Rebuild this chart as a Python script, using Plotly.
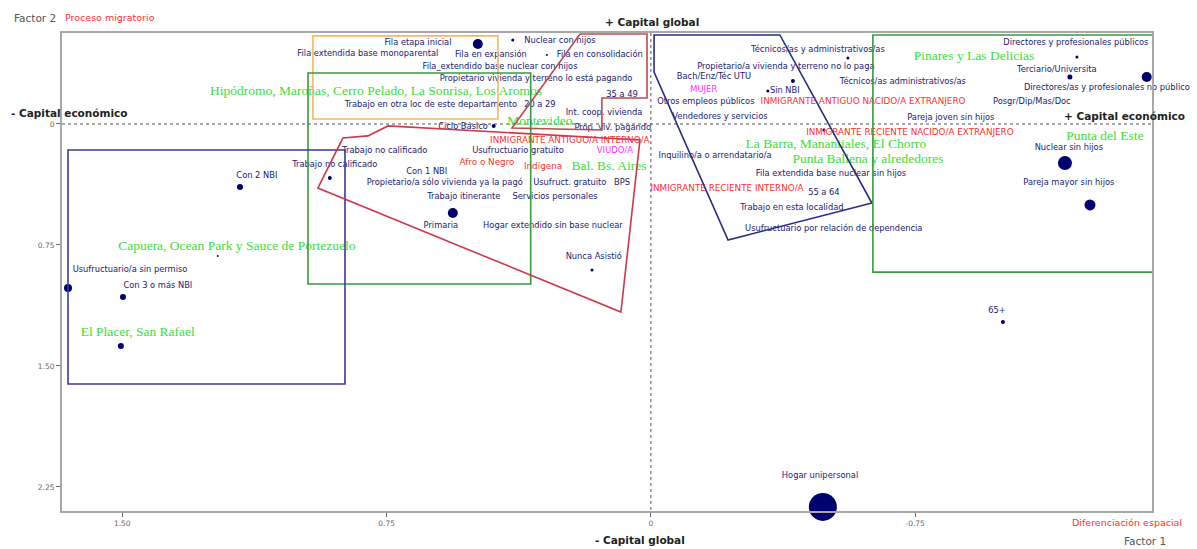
import plotly.graph_objects as go

# ---------------- data (factor coordinates) ----------------
# Category labels (navy)
cat_labels = [
    "Fila etapa inicial", "Fila extendida base monoparental", "Nuclear con hijos",
    "Fila en expansión", "Fila en consolidación", "Fila_extendido base nuclear con hijos",
    "Propietario vivienda y terreno lo está pagando", "Trabajo en otra loc de este departamento",
    "20 a 29", "35 a 49", "Int. coop. vivienda", "Ciclo Básico", "Prop. viv. pagando",
    "Trabajo no calificado", "Usufructuario gratuito", "Trabajo no calificado", "Con 1 NBI",
    "Propietario/a sólo vivienda ya la pagó", "Usufruct. gratuito", "BPS",
    "Trabajo itinerante", "Servicios personales", "Primaria", "Hogar extendido sin base nuclear",
    "Nunca Asistió", "Con 2 NBI", "Usufructuario/a sin permiso", "Con 3 o más NBI",
    "Técnicos/as y administrativos/as", "Propietario/a vivienda y terreno no lo paga",
    "Bach/Enz/Téc UTU", "Sin NBI", "Técnicos/as administrativos/as", "Otros empleos públicos",
    "Vendedores y servicios", "Pareja joven sin hijos", "Inquilino/a o arrendatario/a",
    "Fila extendida base nuclear sin hijos", "55 a 64", "Trabajo en esta localidad",
    "Usufructuario por relación de dependencia", "Directores y profesionales públicos",
    "Terciario/Universita", "Directores/as y profesionales no público", "Posgr/Dip/Mas/Doc",
    "Nuclear sin hijos", "Pareja mayor sin hijos", "65+", "Hogar unipersonal",
]
cat_x = [0.661, 0.803, 0.258, 0.454, 0.145, 0.428, 0.326, 0.624, 0.315, 0.082, 0.133, 0.533,
         0.108, 0.755, 0.377, 0.897, 0.636, 0.585, 0.230, 0.082, 0.531, 0.272, 0.596, 0.278,
         0.162, 1.118, 1.478, 1.399, -0.474, -0.383, -0.179, -0.380, -0.715, -0.156, -0.196,
         -0.851, -0.182, -0.511, -0.491, -0.400, -0.519, -1.206, -1.152, -1.294, -1.081,
         -1.186, -1.186, -0.982, -0.480]
cat_y = [-0.502, -0.434, -0.515, -0.428, -0.428, -0.353, -0.279, -0.118, -0.118, -0.180,
         -0.068, 0.019, 0.025, 0.167, 0.167, 0.254, 0.298, 0.366, 0.366, 0.366, 0.453, 0.453,
         0.632, 0.632, 0.825, 0.322, 0.905, 1.004, -0.459, -0.353, -0.291, -0.205, -0.260,
         -0.136, -0.043, -0.037, 0.198, 0.310, 0.428, 0.521, 0.651, -0.502, -0.335, -0.223,
         -0.136, 0.149, 0.366, 1.159, 2.182]

# Migration labels (red)
mig_labels = ["INMIGRANTE ANTIGUO/A INTERNO/A", "Afro o Negro", "Indígena",
              "INMIGRANTE ANTIGUO NACIDO/A EXTRANJERO", "INMIGRANTE RECIENTE NACIDO/A EXTRANJERO",
              "INMIGRANTE RECIENTE INTERNO/A"]
mig_x = [0.230, 0.465, 0.306, -0.602, -0.735, -0.216]
mig_y = [0.105, 0.242, 0.267, -0.136, 0.056, 0.403]

# Sex / marital labels (magenta)
sex_labels = ["MUJER", "VIUDO/A"]
sex_x = [-0.150, 0.102]
sex_y = [-0.211, 0.167]

# Zones (green)
zone_labels = ["Hipódromo, Maroñas, Cerro Pelado, La Sonrisa, Los Aromos", "Montevideo",
               "Bal. Bs. Aires", "Pinares y Las Delicias", "La Barra, Manantiales, El Chorro",
               "Punta Ballena y alrededores", "Punta del Este",
               "Capuera, Ocean Park y Sauce de Portezuelo", "El Placer, San Rafael"]
zone_x = [0.780, 0.315, 0.119, -0.917, -0.525, -0.616, -1.288, 1.175, 1.456]
zone_y = [-0.198, -0.012, 0.267, -0.415, 0.130, 0.223, 0.081, 0.763, 1.296]

# Points (bubble size = relative mass)
pt_x = [0.491, 0.392, 0.295, 0.446, 0.911, 0.562, 0.167, 1.166, 1.654, 1.498, 1.504, 1.229,
        -0.559, -0.403, -0.332, -0.491, -1.209, -1.189, -1.407, -1.175, -1.246, -0.999, -0.488]
pt_y = [-0.496, -0.521, -0.428, 0.012, 0.335, 0.552, 0.905, 0.391, 1.017, 1.073, 1.376, 0.818,
        -0.409, -0.267, -0.205, 0.037, -0.415, -0.291, -0.291, 0.242, 0.502, 1.228, 2.374]
pt_mass = [10, 3, 2, 4, 4, 10, 3, 6, 8, 6, 6, 2, 3, 4, 3, 3, 3, 5, 10, 14, 11, 4, 28]

# Tick labels
x_ticks = [1.5, 0.75, 0, -0.75]
x_ticktext = ["1.50", "0.75", "0", "-0.75"]
y_ticks = [0, 0.75, 1.5, 2.25]
y_ticktext = ["0", "0.75", "1.50", "2.25"]

# Group outlines (polygons in factor coordinates)
poly_orange = [(0.959, -0.546), (0.434, -0.546), (0.434, -0.031), (0.959, -0.031)]
poly_green_left = [(0.973, -0.316), (0.341, -0.316), (0.341, 0.992), (0.973, 0.992)]
poly_blue_left = [(1.654, 0.161), (0.868, 0.161), (0.868, 1.612), (1.654, 1.612)]
poly_red_big = [(0.945, 0.397), (0.874, 0.087), (0.803, 0.074), (0.746, 0.012),
                (0.031, 0.099), (0.085, 1.166)]
poly_red_up = [(0.394, 0.025), (0.201, -0.558), (0.011, -0.558), (0.011, -0.161),
               (0.139, -0.161), (0.139, 0.037)]
poly_blue_right = [(-0.009, -0.552), (-0.366, -0.552), (-0.627, 0.490), (-0.219, 0.719),
                   (-0.009, -0.322)]
poly_green_right = [(-0.630, -0.552), (-1.444, -0.552), (-1.444, 0.918), (-0.630, 0.918)]

X_RANGE = [1.671, -1.422]
Y_RANGE = [2.399, -0.564]

# ---------------- figure ----------------
fig = go.Figure()

def poly_path(pts):
    return "M " + " L ".join(f"{x},{y}" for x, y in pts) + " Z"

for pts, col in [(poly_orange, "#f4b860"), (poly_green_left, "#3a9a3a"),
                 (poly_blue_left, "#3a3a99"), (poly_red_big, "#cc3a4a"),
                 (poly_red_up, "#c04a4a"), (poly_blue_right, "#2a2a88"),
                 (poly_green_right, "#3a9a3a")]:
    fig.add_shape(type="path", path=poly_path(pts), xref="x", yref="y",
                  line=dict(color=col, width=1.6), layer="above")

# dotted zero lines
fig.add_shape(type="line", xref="x", yref="y", x0=0, x1=0, y0=Y_RANGE[1], y1=Y_RANGE[0],
              line=dict(color="#555555", width=1, dash="dot"), layer="below")
fig.add_shape(type="line", xref="x", yref="y", x0=X_RANGE[0], x1=X_RANGE[1], y0=0, y1=0,
              line=dict(color="#555555", width=1, dash="dot"), layer="below")

fig.add_trace(go.Scatter(x=pt_x, y=pt_y, mode="markers", cliponaxis=False,
                         marker=dict(color="#00006e", size=pt_mass, opacity=1,
                                     line=dict(width=0)),
                         hoverinfo="skip", showlegend=False))

sans = "DejaVu Sans, Verdana, sans-serif"
serif = "Liberation Serif, Times New Roman, serif"
for labels, xs, ys, col, size, fam in [
    (cat_labels, cat_x, cat_y, "#1a1a70", 8.3, sans),
    (mig_labels, mig_x, mig_y, "#ff3030", 8.8, sans),
    (sex_labels, sex_x, sex_y, "#ff30ff", 8.5, sans),
    (zone_labels, zone_x, zone_y, "#3ae03a", 13.5, serif),
]:
    fig.add_trace(go.Scatter(x=xs, y=ys, text=labels, mode="text", cliponaxis=False,
                             textposition="middle center",
                             textfont=dict(color=col, size=size, family=fam),
                             hoverinfo="skip", showlegend=False))

# plotting area in page pixels
L, R, T, B = 62, 1152, 33, 511
def pann(text, px, py, color="#000000", size=11, bold=False):
    fig.add_annotation(text=f"<b>{text}</b>" if bold else text,
                       x=(px - L) / (R - L), y=1 - (py - T) / (B - T),
                       xref="paper", yref="paper", showarrow=False,
                       xanchor="center", yanchor="middle",
                       font=dict(color=color, size=size, family=sans))

pann("Factor 2", 35, 18, color="#555555", size=10.5)
pann("Proceso migratorio", 110, 18, color="#ff3030", size=9.5)
pann("+ Capital global", 652, 22, bold=True, size=10.5, color="#222222")
pann("- Capital económico", 69, 113, bold=True, size=10.5, color="#222222")
pann("+ Capital económico", 1124, 116, bold=True, size=10.5, color="#222222")
pann("- Capital global", 640, 540, bold=True, size=10.5, color="#222222")
pann("Diferenciación espacial", 1127, 522, color="#ff3030", size=9.5)
pann("Factor 1", 1145, 541, color="#555555", size=10.5)

axis_common = dict(showgrid=False, zeroline=False, showline=True, mirror=True,
                   linecolor="#a8a8a8", linewidth=2, ticks="outside", ticklen=4,
                   tickcolor="#666666", tickfont=dict(size=7.5, color="#666666", family=sans))
fig.update_xaxes(range=X_RANGE, tickvals=x_ticks, ticktext=x_ticktext, **axis_common)
fig.update_yaxes(range=Y_RANGE, tickvals=y_ticks, ticktext=y_ticktext, **axis_common)

fig.update_layout(width=1197, height=549, autosize=False,
                  margin=dict(l=L, r=1197 - R, t=T, b=549 - B),
                  plot_bgcolor="white", paper_bgcolor="white", showlegend=False)

fig.write_html("out.html", config={"displayModeBar": False},
               post_script="document.body.style.margin='0';document.body.style.overflow='hidden';")
